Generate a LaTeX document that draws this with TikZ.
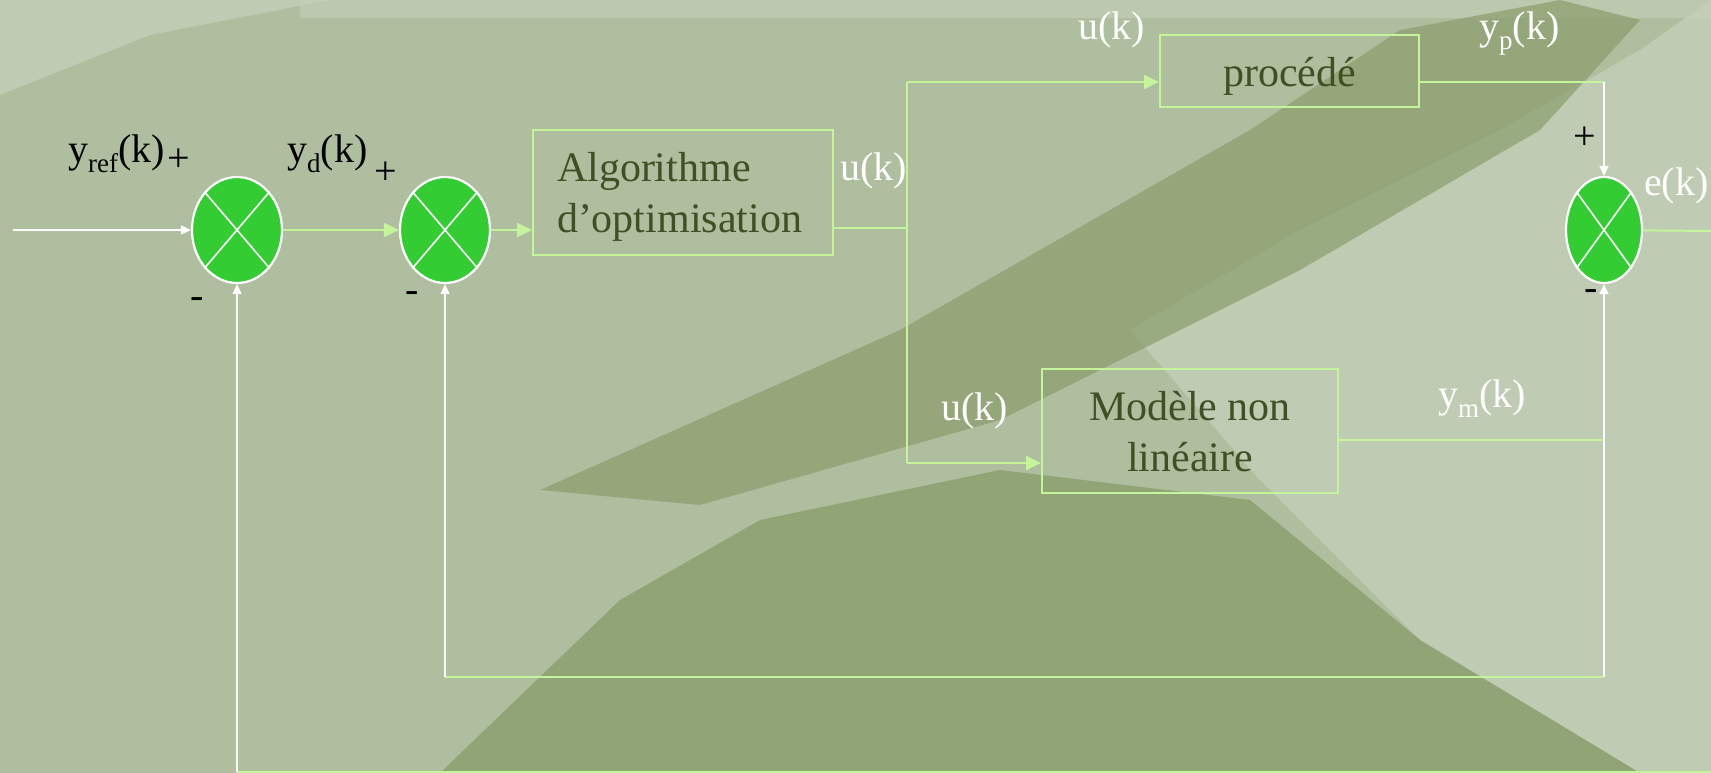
\documentclass[tikz,border=0pt]{standalone}
\usepackage{fontspec}
\setmainfont{Liberation Serif}
\usetikzlibrary{shapes.geometric,arrows.meta}
\definecolor{bg}{HTML}{AFBE9E}
\definecolor{bglight}{HTML}{C7D1BB}
\definecolor{bgdark}{HTML}{8A9E6C}
\definecolor{lgreen}{HTML}{C4F59A}
\definecolor{sumgreen}{HTML}{33CC33}
\definecolor{boxtext}{HTML}{3E5024}
\newcommand{\lowtxt}[1]{\raisebox{-0.25em}{\fontsize{27}{27}\selectfont #1}}
\newcommand{\droptxt}[2]{\raisebox{-#1pt}[0pt][0pt]{#2}}
\tikzset{
  gline/.style={draw=lgreen, line width=2pt},
  wline/.style={draw=white, line width=1.6pt},
  garrow/.style={gline, -{Triangle[length=15pt,width=14pt]}},
  warrow/.style={wline, -{Triangle[length=10pt,width=9pt]}},
  sum/.style={ellipse, draw=white, line width=2.2pt, fill=sumgreen, inner sep=0pt},
  blk/.style={draw=lgreen, line width=2pt, text=boxtext, font=\fontsize{42}{51}\selectfont, inner sep=0pt},
  lbl/.style={font=\fontsize{40}{40}\selectfont, inner sep=0pt}
}
\begin{document}
\begin{tikzpicture}[x=1pt,y=-1pt]
\useasboundingbox (0,0) rectangle (1711,773);
\clip (0,0) rectangle (1711,773);
\fill[bg] (0,0) rectangle (1711,773);
\fill[bglight, opacity=0.7] (0,95) -- (150,35) -- (330,0) -- (0,0) -- cycle;
\fill[bglight, opacity=0.6] (300,0) -- (1711,0) -- (1711,18) -- (300,18) -- cycle;
\fill[bglight, opacity=0.7] (1130,330) -- (1300,230) -- (1500,130) -- (1640,50) -- (1711,0) -- (1711,773) -- (1640,773) -- (1420,640) -- (1260,480) -- cycle;
\fill[bgdark, opacity=0.7] (540,490) -- (900,330) -- (1250,130) -- (1400,30) -- (1560,0) -- (1640,20) -- (1540,130) -- (1300,270) -- (1000,420) -- (700,505) -- cycle;
\fill[bgdark, opacity=0.8] (440,773) -- (620,600) -- (760,520) -- (1000,470) -- (1250,500) -- (1420,640) -- (1640,773) -- cycle;

\foreach \k/\x/\rx in {1/237/45, 2/445/45, 3/1604/38}
    \node[sum, minimum width=2*\rx, minimum height=106] (S\k) at (\x,230) {};
\foreach \k in {1,2,3} {
    \draw[wline] (S\k.north west) -- (S\k.south east);
    \draw[wline] (S\k.north east) -- (S\k.south west);
}

\node[blk, minimum width=300, minimum height=125, align=left, text width=252] (algo) at (683,192.5) {\droptxt{15}{Algorithme}\\\droptxt{15}{d'optimisation}};
\node[blk, minimum width=259, minimum height=72] (proc) at (1289.5,71) {\droptxt{16}{procédé}};
\node[blk, minimum width=296, minimum height=124, align=center] (model) at (1190,430.5) {\droptxt{15}{Modèle non}\\\droptxt{15}{linéaire}};

\node[lbl, anchor=base west] (yref) at (68,162) {y\lowtxt{ref}(k)};
\node[lbl, anchor=base west] (yd) at (287,162) {y\lowtxt{d}(k)};
\node[lbl, anchor=base west, text=white] (u1) at (840,180) {u(k)};
\node[lbl, anchor=base west, text=white] (u2) at (1078,40) {u(k)};
\node[lbl, anchor=base west, text=white] (u3) at (941,420) {u(k)};
\node[lbl, anchor=base west, text=white] (yp) at (1479,40) {y\lowtxt{p}(k)};
\node[lbl, anchor=base west, text=white] (ym) at (1438,407) {y\lowtxt{m}(k)};
\node[lbl, anchor=base west, text=white] (ek) at (1644,195) {e(k)};
\foreach \n/\x/\y/\s in {p1/179/160/+, p2/386/173/+, p3/1585/138/+, m1/197/303/-, m2/412/297/-, m3/1591/295/-}
    \node[lbl] (\n) at (\x,\y) {\s};

\coordinate (in) at (13,230);
\coordinate (br) at (907,228);
\coordinate (brtop) at (907,82);
\coordinate (brbot) at (907,463);
\coordinate (cr) at (1604,82);
\coordinate (mr) at (1604,440);
\coordinate (fb) at (1604,677);
\coordinate (fbl) at (445,677);
\coordinate (fb0) at (237,772);
\coordinate (fbr) at (1711,772);
\coordinate (out) at (1711,231);

\draw[warrow] (in) -- (S1);
\draw[garrow] (S1) -- (S2);
\draw[garrow] (S2) -- (S2 -| algo.west);
\draw[gline] (algo.east |- br) -- (br);
\draw[gline] (brtop) -- (brbot);
\draw[garrow] (brtop) -- (brtop -| proc.west);
\draw[garrow] (brbot) -- (brbot -| model.west);
\draw[gline] (proc.east |- cr) -- (cr);
\draw[warrow] (cr) -- (S3);
\draw[gline] (model.east |- mr) -- (mr);
\draw[warrow] (fb) -- (S3);
\draw[gline] (fb) -- (fbl);
\draw[warrow] (fbl) -- (S2);
\draw[warrow] (fb0) -- (S1);
\draw[gline] (fb0) -- (fbr);
\draw[gline] (S3) -- (out);
\end{tikzpicture}
\end{document}
